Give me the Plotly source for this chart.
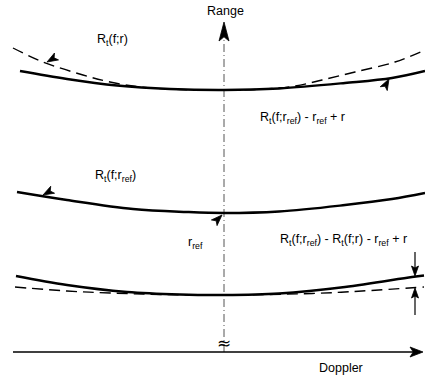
import math
import plotly.graph_objects as go

# ---- data (Doppler offset from zero-Doppler line, range value) ----
top_solid_x = [-204, -157, -107, -54, 0, 55, 121, 168, 201]
top_solid_y = [313, 305, 298.5, 295, 294, 295.5, 301, 306, 313]          # R_t(f;r_ref) - r_ref + r
top_dash_x = [-211, -181, -141, -114, -84, -44, 0, 41, 71, 98, 131, 171, 201]
top_dash_y = [336, 322, 309, 302, 297, 294.5, 294, 295, 298, 304, 312, 322, 334]  # R_t(f;r)
mid_x = [-207, -157, -91, -37, 0, 55, 121, 168, 201]
mid_y = [192, 184, 175, 172, 171, 172.5, 179, 185, 191]                   # R_t(f;r_ref)
bot_solid_x = [-208, -157, -97, -44, 0, 55, 121, 188, 200]
bot_solid_y = [108, 99, 92, 89.5, 89, 90.5, 97, 107, 108.5]
bot_dash_x = [-209, -157, -114, -64, 0, 88, 138, 200]
bot_dash_y = [97, 93, 91, 89.5, 89, 90.5, 93, 97]

# axis geometry
doppler_axis_y = 32
doppler_axis_x = [-211, 199]
range_axis_x = 0
range_axis_y = [32, 362]

# pointer arrowheads: (tip_x, tip_y, from_x, from_y)
pointers = [(-177, 322, -165, 329), (165, 305, 159, 294),
            (-181, 189, -170, 195), (-2, 169, -10, 161)]
# gap arrows (tail -> tip)
gap_arrows = [((191, 132), (191, 108)), ((191, 69), (191, 96))]

labels = [
    ("Range", 1, 373),
    ("Doppler", 117, 16),
    ("R<sub>t</sub>(f;r)", -112, 344),
    ("R<sub>t</sub>(f;r<sub>ref</sub>) - r<sub>ref</sub> + r", 78, 266),
    ("R<sub>t</sub>(f;r<sub>ref</sub>)", -109, 208),
    ("r<sub>ref</sub>", -29, 141),
    ("R<sub>t</sub>(f;r<sub>ref</sub>) - R<sub>t</sub>(f;r) - r<sub>ref</sub> + r", 119, 144),
]

FONT = dict(family="Liberation Sans, Arial, sans-serif", size=12.5, color="black")

fig = go.Figure()


def line(x, y, color="black", width=1.3, dash=None, shape="linear"):
    fig.add_trace(go.Scatter(x=x, y=y, mode="lines", hoverinfo="skip",
                             line=dict(color=color, width=width, dash=dash,
                                       shape=shape, smoothing=1.0)))


def head(tip, frm, length, width, notch=0.3):
    ux, uy = tip[0] - frm[0], tip[1] - frm[1]
    n = math.hypot(ux, uy)
    ux, uy = ux / n, uy / n
    px, py = -uy, ux
    bx, by = tip[0] - ux * length, tip[1] - uy * length
    nx, ny = tip[0] - ux * length * (1 - notch), tip[1] - uy * length * (1 - notch)
    xs = [tip[0], bx + px * width / 2, nx, bx - px * width / 2, tip[0]]
    ys = [tip[1], by + py * width / 2, ny, by - py * width / 2, tip[1]]
    fig.add_trace(go.Scatter(x=xs, y=ys, mode="lines", fill="toself",
                             fillcolor="black", line=dict(color="black", width=0.8),
                             hoverinfo="skip"))


# zero-Doppler dash-dot axis
line([range_axis_x, range_axis_x], [range_axis_y[0], range_axis_y[1] - 18],
     color="#555", width=1, dash="8px,3px,1px,3px")
head((range_axis_x, range_axis_y[1]), (range_axis_x, range_axis_y[0]), 19, 10, notch=0.22)

# Doppler axis
line([doppler_axis_x[0], doppler_axis_x[1] - 8], [doppler_axis_y, doppler_axis_y], width=1.4)
head((doppler_axis_x[1], doppler_axis_y), (doppler_axis_x[0], doppler_axis_y), 13, 10, notch=0.25)

# curves
line(top_dash_x, top_dash_y, dash="11px,6px", width=1.4, shape="spline")
line(top_solid_x, top_solid_y, width=2.4, shape="spline")
line(mid_x, mid_y, width=2.4, shape="spline")
line(bot_dash_x, bot_dash_y, dash="11px,6px", width=1.4, shape="spline")
line(bot_solid_x, bot_solid_y, width=2.4, shape="spline")

for tx, ty, fx, fy in pointers:
    head((tx, ty), (fx, fy), 11, 8, notch=0.25)

for tail, tip in gap_arrows:
    line([tail[0], tip[0]], [tail[1], tip[1] + (6 if tip[1] < tail[1] else -6)], width=1.2)
    head(tip, tail, 10, 7, notch=0.2)

for txt, x, y in labels:
    fig.add_annotation(x=x, y=y, xref="x", yref="y", text=txt, showarrow=False, font=FONT)

fig.add_annotation(x=0, y=41, xref="x", yref="y", text="≈", showarrow=False,
                   font=dict(family="DejaVu Sans, sans-serif", size=17, color="black"))

fig.update_layout(width=425, height=384, margin=dict(l=0, r=0, t=0, b=0),
                  paper_bgcolor="white", plot_bgcolor="white", showlegend=False,
                  xaxis=dict(range=[-224, 201], visible=False, fixedrange=True),
                  yaxis=dict(range=[0, 384], visible=False, fixedrange=True))

fig.write_html("out.html", config={"staticPlot": True},
               post_script="document.body.style.margin='0';"
                           "document.body.style.overflow='hidden';")
